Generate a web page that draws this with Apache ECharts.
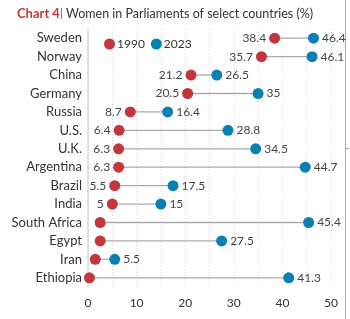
<!DOCTYPE html>
<html>
<head>
<meta charset="utf-8">
<script src="https://cdn.jsdelivr.net/npm/echarts@6/dist/echarts.min.js"></script>
<style>
  html, body { margin: 0; padding: 0; background: #fff; }
  #chart_4 { width: 350px; height: 319px; }
</style>
</head>
<body>
<div id="chart_4"></div>
<script>
var countries = ['Sweden', 'Norway', 'China', 'Germany', 'Russia', 'U.S.', 'U.K.', 'Argentina',
    'Brazil', 'India', 'South Africa', 'Egypt', 'Iran', 'Ethiopia'];
var women1990 = [38.4, 35.7, 21.2, 20.5, 8.7, 6.4, 6.3, 6.3, 5.5, 5, 2.5, 2.5, 1.5, 0.3];
// the chart only prints the 1990 figure for the first ten countries
var labeled1990 = [true, true, true, true, true, true, true, true, true, true, false, false, false, false];
var women2023 = [46.4, 46.1, 26.5, 35, 16.4, 28.8, 34.5, 44.7, 17.5, 15, 45.4, 27.5, 5.5, 41.3];
var xTicks = [0, 10, 20, 30, 40, 50];

var red = '#c3363c';
var blue = '#0a7fb5';
var font = 'Lato';

var myChart = echarts.init(document.getElementById('chart_4'));

var option = {
    textStyle: { fontFamily: font },
    title: {
        text: '{a|Chart 4}{b|| }{c|Women in Parliaments of select countries (%)}',
        left: 17,
        top: 7,
        padding: 0,
        textStyle: {
            fontWeight: 'normal',
            rich: {
                a: { color: red, fontWeight: 'bold', fontSize: 13, fontFamily: font },
                b: { color: '#666', fontWeight: 'normal', fontSize: 12, fontFamily: font },
                c: { color: '#333', fontWeight: 'normal', fontSize: 12.5, fontFamily: font }
            }
        }
    },
    legend: {
        left: 99,
        top: 33,
        itemWidth: 11,
        itemHeight: 11,
        itemGap: 6,
        icon: 'circle',
        textStyle: { color: '#333', fontSize: 12, padding: [0, 0, 0, -3] },
        data: ['1990', '2023']
    },
    grid: { left: 88, right: 19, top: 29, bottom: 32 },
    xAxis: {
        type: 'value',
        min: 0,
        max: 50,
        interval: 5,
        axisLine: { show: false },
        axisTick: { show: false },
        splitLine: { lineStyle: { color: '#d6d6d6', type: [1, 2], width: 1 } },
        axisLabel: {
            color: '#333',
            fontSize: 12,
            margin: 10,
            formatter: function (v) {
                return xTicks.indexOf(v) >= 0 ? String(v) : '';
            }
        }
    },
    yAxis: {
        type: 'category',
        inverse: true,
        data: countries,
        axisLine: { lineStyle: { color: '#d9d9d9', width: 1.5 } },
        axisTick: { alignWithLabel: true, length: 4, lineStyle: { color: '#999' } },
        axisLabel: { color: '#333', fontSize: 13, margin: 6 }
    },
    series: [
        {
            name: 'gap',
            type: 'custom',
            silent: true,
            z: 1,
            renderItem: function (params, api) {
                var a = api.coord([api.value(0), api.value(2)]);
                var b = api.coord([api.value(1), api.value(2)]);
                return {
                    type: 'line',
                    shape: { x1: a[0], y1: a[1], x2: b[0], y2: b[1] },
                    style: { stroke: '#aaa', lineWidth: 1.3 }
                };
            },
            encode: { x: [0, 1], y: 2 },
            data: countries.map(function (c, i) {
                return [women1990[i], women2023[i], i];
            })
        },
        {
            name: '1990',
            type: 'scatter',
            symbolSize: 11,
            z: 3,
            itemStyle: { color: red, opacity: 1 },
            label: {
                show: true,
                position: 'left',
                distance: 3,
                color: '#444',
                fontSize: 12
            },
            data: women1990.map(function (v, i) {
                return { value: [v, i], label: { show: labeled1990[i] } };
            })
        },
        {
            name: '2023',
            type: 'scatter',
            symbolSize: 11,
            z: 3,
            itemStyle: { color: blue, opacity: 1 },
            label: {
                show: true,
                position: 'right',
                distance: 3,
                color: '#444',
                fontSize: 12
            },
            data: women2023.map(function (v, i) {
                return [v, i];
            })
        }
    ],
    graphic: [
        {
            type: 'line',
            shape: { x1: 345.5, y1: 0, x2: 345.5, y2: 319 },
            style: { stroke: '#aaa', lineWidth: 1 }
        },
        {
            type: 'line',
            shape: { x1: 346, y1: 148.5, x2: 349, y2: 148.5 },
            style: { stroke: '#999', lineWidth: 1 }
        }
    ]
};

myChart.setOption(option);
window.addEventListener("resize", function () {
    myChart.resize();
});
</script>
</body>
</html>
